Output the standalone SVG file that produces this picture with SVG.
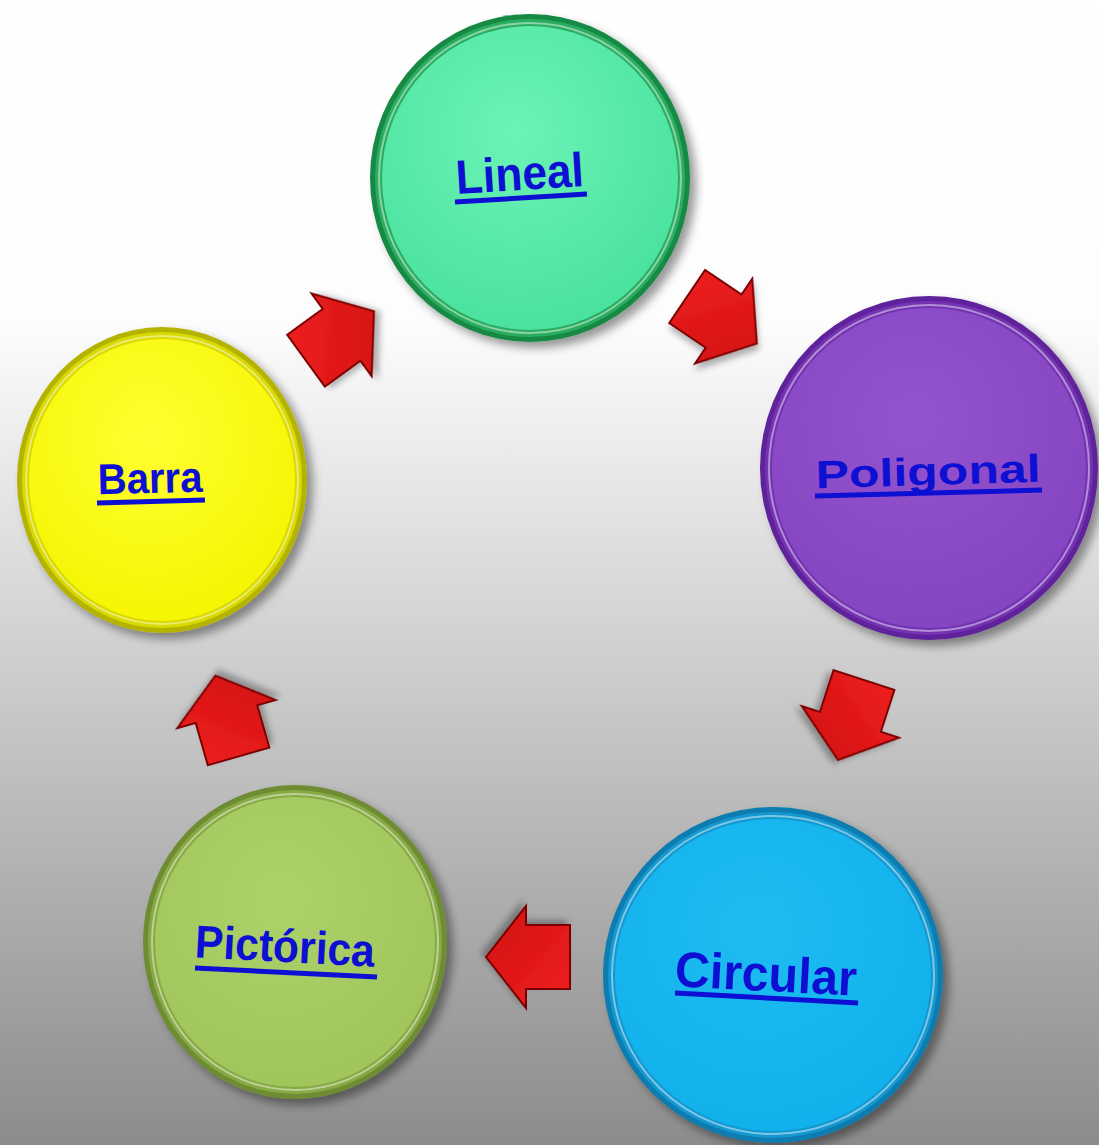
<svg xmlns="http://www.w3.org/2000/svg" xmlns:xlink="http://www.w3.org/1999/xlink" width="1099" height="1145" viewBox="0 0 1099 1145">
  <style>
    .lbl { font-family: "Liberation Sans", Arial, sans-serif; font-weight: bold; fill: #0d10d2; text-anchor: middle; }
    .ul { stroke: #0d10d2; stroke-width: 5; stroke-linecap: butt; }
    .hl { fill: none; stroke: #ffffff; stroke-opacity: 0.45; stroke-width: 2; }
    .arrow { fill: url(#gRed); stroke: #7a0000; stroke-width: 2; stroke-linejoin: miter; filter: url(#shA); }
  </style>
  <defs>
    <linearGradient id="bg" x1="0" y1="0" x2="0" y2="1">
      <stop offset="0" stop-color="#ffffff"/>
      <stop offset="0.28" stop-color="#fdfdfd"/>
      <stop offset="1" stop-color="#8c8c8c"/>
    </linearGradient>
    <filter id="sh" x="-20%" y="-20%" width="140%" height="140%">
      <feDropShadow dx="6" dy="6" stdDeviation="5" flood-color="#000" flood-opacity="0.4"/>
    </filter>
    <filter id="shA" x="-30%" y="-30%" width="160%" height="160%">
      <feDropShadow dx="4" dy="4" stdDeviation="3" flood-color="#000" flood-opacity="0.3"/>
    </filter>
    <linearGradient id="gRed" x1="0" y1="0" x2="1" y2="1">
      <stop offset="0" stop-color="#f02020"/>
      <stop offset="1" stop-color="#d01010"/>
    </linearGradient>
    <radialGradient id="gGreen" cx="0.45" cy="0.35" r="0.7">
      <stop offset="0" stop-color="#6cf4b6"/>
      <stop offset="1" stop-color="#48e09c"/>
    </radialGradient>
    <radialGradient id="gPurple" cx="0.45" cy="0.35" r="0.7">
      <stop offset="0" stop-color="#9454ce"/>
      <stop offset="1" stop-color="#8444c0"/>
    </radialGradient>
    <radialGradient id="gYellow" cx="0.45" cy="0.35" r="0.7">
      <stop offset="0" stop-color="#ffff30"/>
      <stop offset="1" stop-color="#f4f400"/>
    </radialGradient>
    <radialGradient id="gCyan" cx="0.45" cy="0.35" r="0.7">
      <stop offset="0" stop-color="#1fbcf2"/>
      <stop offset="1" stop-color="#10b0ec"/>
    </radialGradient>
    <radialGradient id="gOlive" cx="0.45" cy="0.35" r="0.7">
      <stop offset="0" stop-color="#aed26a"/>
      <stop offset="1" stop-color="#9ec45a"/>
    </radialGradient>
    <path id="arr" d="M-42,-32 L2,-32 L2,-51 L42,0 L2,51 L2,32 L-42,32 Z"/>
  </defs>

  <rect x="0" y="0" width="1099" height="1145" fill="url(#bg)"/>

  <g id="connectors">
    <use href="#arr" class="arrow" transform="translate(340,336) rotate(-36)"/>
    <use href="#arr" class="arrow" transform="translate(722,320) rotate(34)"/>
    <use href="#arr" class="arrow" transform="translate(851,720) rotate(108)"/>
    <use href="#arr" class="arrow" transform="translate(528,957) rotate(180)"/>
    <use href="#arr" class="arrow" transform="translate(227,716) rotate(-106)"/>
  </g>

  <g id="node-lineal">
    <ellipse cx="530" cy="178" rx="160" ry="164" fill="#178a44" filter="url(#sh)"/>
    <ellipse cx="530" cy="178" rx="155" ry="159" fill="#2aad60"/>
    <ellipse cx="530" cy="178" rx="148" ry="152" fill="url(#gGreen)"/>
    <ellipse cx="530" cy="178" rx="151" ry="155" class="hl"/>
    <text class="lbl" x="520" y="190" font-size="48" textLength="128" lengthAdjust="spacingAndGlyphs" transform="rotate(-3.5 520 178)">Lineal</text>
    <line class="ul" x1="455" y1="202" x2="587" y2="194"/>
  </g>

  <g id="node-poligonal">
    <ellipse cx="929" cy="468" rx="169" ry="172" fill="#5e229a" filter="url(#sh)"/>
    <ellipse cx="929" cy="468" rx="164" ry="167" fill="#7434b2"/>
    <ellipse cx="929" cy="468" rx="157" ry="160" fill="url(#gPurple)"/>
    <ellipse cx="929" cy="468" rx="160" ry="163" class="hl"/>
    <text class="lbl" x="928" y="485" font-size="39" textLength="225" lengthAdjust="spacingAndGlyphs" transform="rotate(-1.7 928 472)">Poligonal</text>
    <line class="ul" x1="815" y1="496" x2="1042" y2="490"/>
  </g>

  <g id="node-circular">
    <ellipse cx="773" cy="975" rx="170" ry="168" fill="#087cb0" filter="url(#sh)"/>
    <ellipse cx="773" cy="975" rx="165" ry="163" fill="#1498d0"/>
    <ellipse cx="773" cy="975" rx="158" ry="156" fill="url(#gCyan)"/>
    <ellipse cx="773" cy="975" rx="161" ry="159" class="hl"/>
    <text class="lbl" x="766" y="991" font-size="50" textLength="182" lengthAdjust="spacingAndGlyphs" transform="rotate(3 766 975)">Circular</text>
    <line class="ul" x1="675" y1="993" x2="858" y2="1003"/>
  </g>

  <g id="node-pictorica">
    <ellipse cx="295" cy="942" rx="152" ry="157" fill="#6e8c30" filter="url(#sh)"/>
    <ellipse cx="295" cy="942" rx="147" ry="152" fill="#88aa44"/>
    <ellipse cx="295" cy="942" rx="140" ry="145" fill="url(#gOlive)"/>
    <ellipse cx="295" cy="942" rx="143" ry="148" class="hl"/>
    <text class="lbl" x="285" y="962" font-size="46" textLength="180" lengthAdjust="spacingAndGlyphs" transform="rotate(3 285 946)">Pictórica</text>
    <line class="ul" x1="195" y1="968" x2="377" y2="977"/>
  </g>

  <g id="node-barra">
    <ellipse cx="162" cy="480" rx="145" ry="153" fill="#b4b400" filter="url(#sh)"/>
    <ellipse cx="162" cy="480" rx="140" ry="148" fill="#dada00"/>
    <ellipse cx="162" cy="480" rx="133" ry="141" fill="url(#gYellow)"/>
    <ellipse cx="162" cy="480" rx="136" ry="144" class="hl"/>
    <text class="lbl" x="150" y="493" font-size="43" textLength="105" lengthAdjust="spacingAndGlyphs" transform="rotate(-1.4 150 478)">Barra</text>
    <line class="ul" x1="97" y1="503" x2="205" y2="500"/>
  </g>
</svg>
